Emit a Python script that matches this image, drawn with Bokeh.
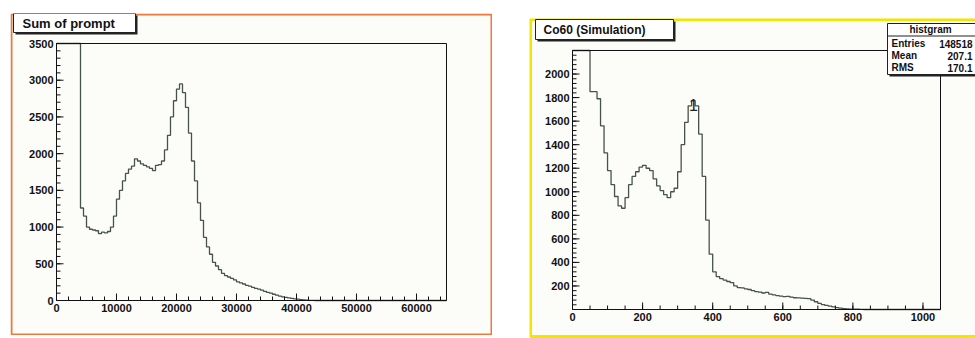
import math
from bokeh.plotting import figure
from bokeh.layouts import row
from bokeh.models import BoxAnnotation, Label, Range1d
from bokeh.embed import file_html
from bokeh.resources import INLINE
from bokeh.core.properties import value

# ---------------- data ----------------
left_title = "Sum of prompt"
left_bin_width = 500
left_x_max = 65000
left_y_max = 3500
# bins start at 0; the first bins run off the top of the scale (read as the top value)
left_counts = [
    3500, 3500, 3500, 3500, 3500, 3500, 3500, 3500,
    1260, 1150, 1000, 970, 960, 950, 910, 930, 920, 940,
    1000, 1150, 1380, 1500, 1630, 1730, 1790, 1830, 1930, 1900,
    1860, 1840, 1820, 1800, 1770, 1840, 1850, 1900, 2050, 2250,
    2500, 2720, 2880, 2950, 2830, 2630, 2280, 1900, 1630, 1330,
    1090, 860, 730, 630, 520, 470, 420, 370, 340, 320,
    300, 280, 255, 240, 225, 205, 195, 180, 165, 155,
    140, 125, 110, 100, 85, 72, 60, 50, 42, 35,
    28, 22, 18, 12, 8, 5, 3, 1, 0,
]
left_x_ticks = [0, 10000, 20000, 30000, 40000, 50000, 60000]
left_x_minor = [t for t in range(0, 64001, 2000)]
left_y_ticks = [0, 500, 1000, 1500, 2000, 2500, 3000, 3500]
left_y_minor = [t for t in range(0, 3501, 100)]

right_title = "Co60 (Simulation)"
right_bin_width = 10
right_x_max = 1050
right_y_max = 2200
right_counts = [
    2200, 2200, 2200, 2200, 2200,
    1850, 1850, 1790, 1560, 1330, 1180, 1060, 960, 880, 860,
    950, 1060, 1130, 1170, 1210, 1225, 1200, 1180, 1110, 1050,
    1010, 975, 950, 1000, 1030, 1170, 1400, 1590, 1730, 1775,
    1730, 1490, 1130, 760, 470, 320, 280, 262, 250, 238,
    228, 200, 186, 183, 176, 170, 160, 152, 148, 140,
    145, 130, 124, 118, 114, 110, 112, 105, 100, 98,
    97, 94, 92, 80, 66, 52, 42, 35, 28, 22,
    16, 11, 7, 5, 3, 2, 2, 1, 0,
]
right_x_ticks = [0, 200, 400, 600, 800, 1000]
right_x_minor = [t for t in range(0, 1051, 50)]
right_y_ticks = [200, 400, 600, 800, 1000, 1200, 1400, 1600, 1800, 2000]
right_y_minor = [t for t in range(0, 2201, 40)]
right_marker = "1"
right_marker_x = 345
right_marker_y = 1690
stats_name = "histgram"
stats_rows = [("Entries", "148518"), ("Mean", "207.1"), ("RMS", "170.1")]

# ---------------- style ----------------
BG = "#fcfcf9"
INK = "#111111"
LINE = "#46524a"
FONT = "Liberation Sans"


def make_panel(W, H, inner, xmax, ymax, margin):
    L, R, T, B = inner  # canvas pixels of the histogram frame
    sx = xmax / (R - L)
    sy = ymax / (B - T)
    p = figure(width=W, height=H, output_backend="svg", toolbar_location=None,
               x_range=Range1d(-L * sx, xmax + (W - R) * sx),
               y_range=Range1d(-(H - B) * sy, ymax + T * sy),
               min_border=0, x_axis_location=None, y_axis_location=None,
               margin=margin)
    p.grid.visible = False
    p.outline_line_color = None
    p.background_fill_color = BG
    p.border_fill_color = BG
    return p


def draw_axes(p, xmax, ymax, xt, xm, yt, ym, ylab_shift):
    p.quad(left=[0], right=[xmax], bottom=[0], top=[ymax],
           fill_alpha=0, line_color=INK, line_width=1)
    p.ray(x=[0] * len(yt), y=yt, length=7, length_units="screen", angle=0,
          line_color=INK, line_width=1)
    p.ray(x=[0] * len(ym), y=ym, length=4, length_units="screen", angle=0,
          line_color=INK, line_width=1)
    p.ray(x=xt, y=[0] * len(xt), length=7, length_units="screen", angle=math.pi / 2,
          line_color=INK, line_width=1)
    p.ray(x=xm, y=[0] * len(xm), length=4, length_units="screen", angle=math.pi / 2,
          line_color=INK, line_width=1)
    p.text(x=[0] * len(yt), y=yt, text=[str(t) for t in yt], x_offset=ylab_shift,
           text_font=value(FONT), text_font_style="bold", text_font_size="11px",
           text_align="right", text_baseline="middle", text_color=INK)
    p.text(x=xt, y=[0] * len(xt), text=[str(t) for t in xt], y_offset=3,
           text_font=value(FONT), text_font_style="bold", text_font_size="11px",
           text_align="center", text_baseline="top", text_color=INK)


def draw_hist(p, counts, width, xmax, ymax):
    xs = [i * width for i in range(len(counts))] + [len(counts) * width, xmax]
    ys = [min(c, ymax) for c in counts] + [counts[-1], counts[-1]]
    p.step(xs, ys, mode="after", line_color=LINE, line_width=1.3)


def cbox(p, x0, y0, x1, y1, fill, line=None, lw=1):
    p.add_layout(BoxAnnotation(left=x0, right=x1, top=y0, bottom=y1,
                               left_units="canvas", right_units="canvas",
                               top_units="canvas", bottom_units="canvas",
                               fill_color=fill if fill else "#000000",
                               fill_alpha=1 if fill else 0,
                               line_color=line if line else "#000000",
                               line_width=lw, line_alpha=1 if line else 0))


def ctext(p, x, y, text, size="12px", align="left"):
    p.add_layout(Label(x=x, y=y, x_units="canvas", y_units="canvas", text=text,
                       text_font=FONT, text_font_style="bold", text_font_size=size,
                       text_align=align, text_baseline="middle", text_color=INK))


# ---------------- left panel ----------------
LW, LH = 482, 322
p1 = make_panel(LW, LH, (46, 436, 30, 287), left_x_max, left_y_max, (13, 0, 0, 10))
draw_hist(p1, left_counts, left_bin_width, left_x_max, left_y_max)
draw_axes(p1, left_x_max, left_y_max, left_x_ticks, left_x_minor,
          left_y_ticks, left_y_minor, -3)
cbox(p1, 1, 1, LW - 1, LH - 1, None, "#ec7a3c", 2)
cbox(p1, 5, 2, 127, 21, "#222222")
cbox(p1, 3, 0, 125, 19, "#ffffff", "#222222", 1)
ctext(p1, 12, 10, left_title, "13px")

# ---------------- right panel ----------------
RW, RH = 446, 320
p2 = make_panel(RW, RH, (43, 411, 32, 291), right_x_max, right_y_max, (18, 0, 0, 37))
draw_hist(p2, right_counts, right_bin_width, right_x_max, right_y_max)
draw_axes(p2, right_x_max, right_y_max, right_x_ticks, right_x_minor,
          right_y_ticks, right_y_minor, -3)
p2.add_layout(Label(x=right_marker_x, y=right_marker_y, text=right_marker,
                    text_font=FONT, text_font_size="16px", text_align="center",
                    text_baseline="bottom", text_color="#222222"))
cbox(p2, 1, 1, RW + 10, RH - 2, None, "#f2e600", 3)
cbox(p2, 8, 3, 146, 23, "#222222")
cbox(p2, 6, 1, 144, 21, "#ffffff", "#222222", 1)
ctext(p2, 14, 11, right_title, "12px")

cbox(p2, 360, 7, 452, 58, "#222222")
cbox(p2, 358, 5, 450, 56, "#ffffff", "#222222", 1)
cbox(p2, 358, 17, 450, 18, "#222222")
ctext(p2, 401, 11, stats_name, "10px", "center")
for i, (k, v) in enumerate(stats_rows):
    ctext(p2, 362, 25 + 12 * i, k, "10px", "left")
    ctext(p2, 443, 25 + 12 * i, v, "10px", "right")

layout = row(p1, p2)
open("out.html", "w").write(file_html(layout, INLINE))
